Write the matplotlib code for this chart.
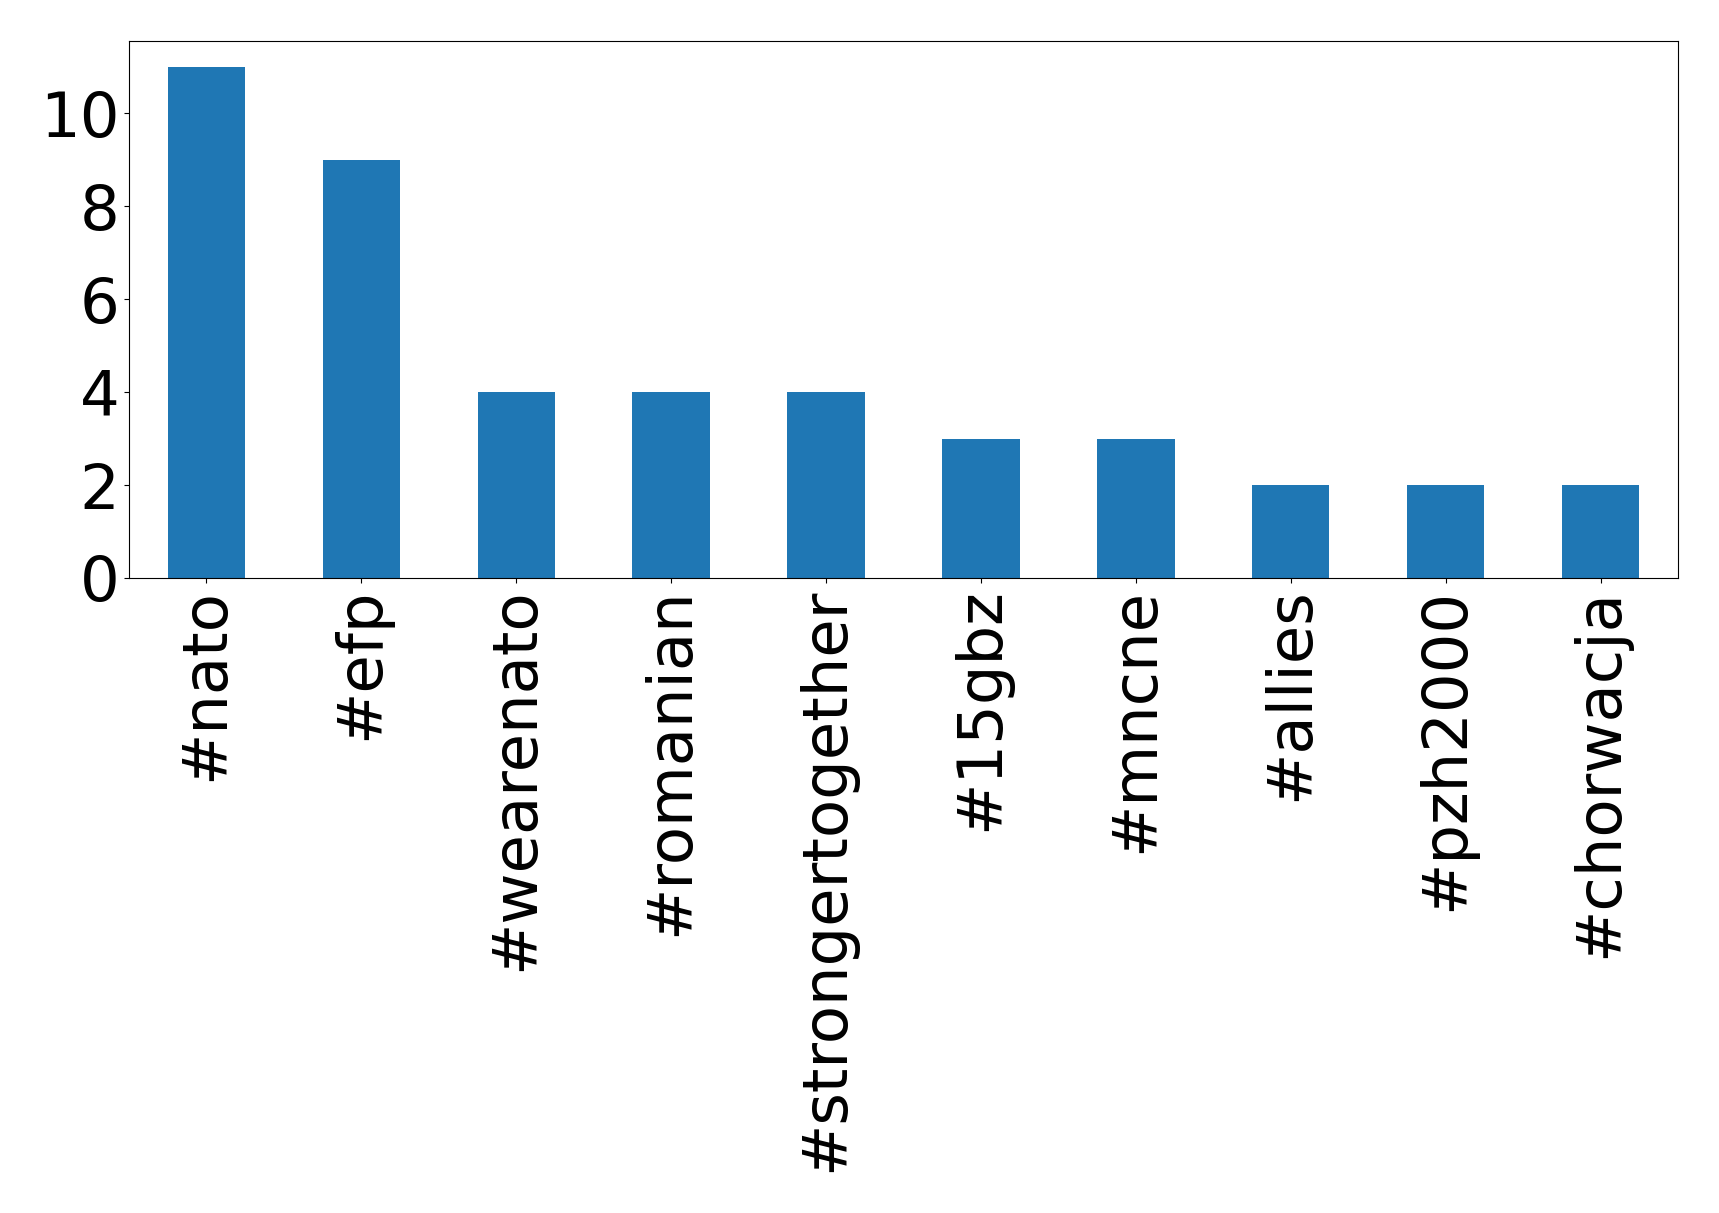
import matplotlib
matplotlib.use("Agg")
import matplotlib.pyplot as plt
import numpy as np

# hashtag counts
hashtags = ["#nato", "#efp", "#wearenato", "#romanian", "#strongertogether",
            "#15gbz", "#mncne", "#allies", "#pzh2000", "#chorwacja"]
counts = [11, 9, 4, 4, 4, 3, 3, 2, 2, 2]

fig = plt.figure(figsize=(17.19, 12.13), dpi=100)
ax = fig.add_axes([129 / 1719, 1 - 578 / 1213, (1678 - 129) / 1719, (578 - 41) / 1213])

x = np.arange(len(hashtags))
ax.bar(x, counts, width=0.5, color="#1f77b4")
ax.set_xlim(-0.5, len(hashtags) - 0.5)
ax.set_ylim(0, max(counts) * 1.05)
ax.set_xticks(x)
ax.set_xticklabels(hashtags, rotation=90)
ax.set_yticks([0, 2, 4, 6, 8, 10])
ax.tick_params(axis="both", labelsize=45)

fig.savefig("out.png", dpi=100)
